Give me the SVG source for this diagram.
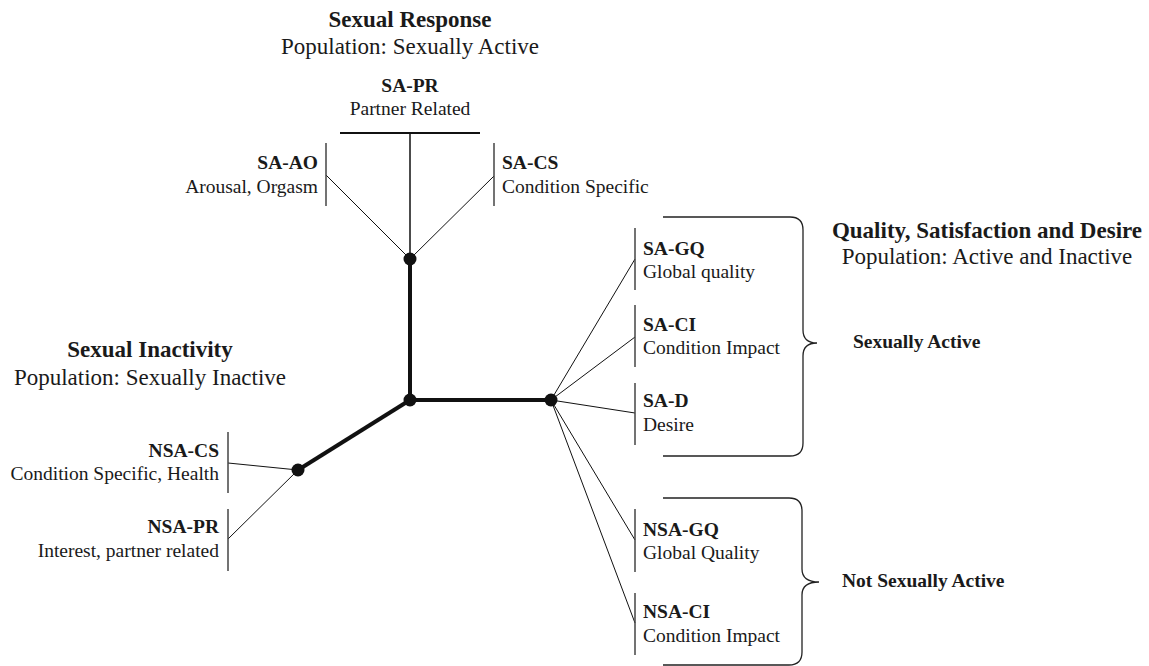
<svg xmlns="http://www.w3.org/2000/svg" width="1149" height="666" viewBox="0 0 1149 666">
<style>
text{font-family:"Liberation Serif","Times New Roman",serif;fill:#1a1a1a}
.h{font-size:23px;font-weight:bold}
.p{font-size:23px}
.b{font-size:19.5px;font-weight:bold}
.r{font-size:19.5px}
.e{text-anchor:end}
.m{text-anchor:middle}
.bar{stroke:#444;stroke-width:1.5;fill:none}
.thin{stroke:#111;stroke-width:1;fill:none}
.thick{stroke:#111;stroke-width:4;fill:none}
.brace{stroke:#222;stroke-width:1.3;fill:none}
.dot{fill:#111}
</style>
<rect width="1149" height="666" fill="#fff"/>
<g id="connectors">
<line class="thick" x1="410" y1="259" x2="410" y2="400"/>
<line class="thick" x1="410" y1="400" x2="551" y2="400"/>
<line class="thick" x1="410" y1="400" x2="298" y2="470"/>
<line class="thin" x1="410" y1="133" x2="410" y2="259" style="stroke-width:1.5"/>
<line class="thin" x1="326" y1="175" x2="410" y2="259"/>
<line class="thin" x1="494" y1="176" x2="410" y2="259"/>
<line class="thin" x1="551" y1="400" x2="635" y2="259"/>
<line class="thin" x1="551" y1="400" x2="635" y2="337"/>
<line class="thin" x1="551" y1="400" x2="635" y2="413"/>
<line class="thin" x1="551" y1="400" x2="635" y2="540"/>
<line class="thin" x1="551" y1="400" x2="635" y2="623"/>
<line class="thin" x1="228" y1="463" x2="298" y2="470"/>
<line class="thin" x1="228" y1="539" x2="298" y2="470"/>
</g>
<g id="title-sexual-response">
<text class="h m" x="410" y="27">Sexual Response</text>
<text class="p m" x="410" y="54">Population: Sexually Active</text>
</g>
<g id="title-sexual-inactivity">
<text class="h m" x="150" y="357">Sexual Inactivity</text>
<text class="p m" x="150" y="385">Population: Sexually Inactive</text>
</g>
<g id="title-quality">
<text class="h m" x="987" y="238">Quality, Satisfaction and Desire</text>
<text class="p m" x="987" y="264">Population: Active and Inactive</text>
</g>
<g id="node-sa-pr">
<line stroke="#111" stroke-width="2" x1="340" y1="133" x2="480" y2="133"/>
<text class="b m" x="410" y="92">SA-PR</text>
<text class="r m" x="410" y="115">Partner Related</text>
</g>
<g id="node-sa-ao">
<line class="bar" x1="326" y1="143" x2="326" y2="206"/>
<text class="b e" x="318" y="169">SA-AO</text>
<text class="r e" x="318" y="193">Arousal, Orgasm</text>
</g>
<g id="node-sa-cs">
<line class="bar" x1="494" y1="143" x2="494" y2="206"/>
<text class="b" x="502" y="169">SA-CS</text>
<text class="r" x="502" y="193">Condition Specific</text>
</g>
<g id="node-sa-gq">
<line class="bar" x1="635" y1="228" x2="635" y2="290"/>
<text class="b" x="643" y="255">SA-GQ</text>
<text class="r" x="643" y="278">Global quality</text>
</g>
<g id="node-sa-ci">
<line class="bar" x1="635" y1="305" x2="635" y2="367"/>
<text class="b" x="643" y="331">SA-CI</text>
<text class="r" x="643" y="354">Condition Impact</text>
</g>
<g id="node-sa-d">
<line class="bar" x1="635" y1="383" x2="635" y2="445"/>
<text class="b" x="643" y="407">SA-D</text>
<text class="r" x="643" y="431">Desire</text>
</g>
<g id="node-nsa-gq">
<line class="bar" x1="635" y1="509" x2="635" y2="572"/>
<text class="b" x="643" y="536">NSA-GQ</text>
<text class="r" x="643" y="559">Global Quality</text>
</g>
<g id="node-nsa-ci">
<line class="bar" x1="635" y1="593" x2="635" y2="655"/>
<text class="b" x="643" y="618">NSA-CI</text>
<text class="r" x="643" y="642">Condition Impact</text>
</g>
<g id="node-nsa-cs">
<line class="bar" x1="228" y1="432" x2="228" y2="493"/>
<text class="b e" x="219" y="457">NSA-CS</text>
<text class="r e" x="219" y="480">Condition Specific, Health</text>
</g>
<g id="node-nsa-pr">
<line class="bar" x1="228" y1="509" x2="228" y2="571"/>
<text class="b e" x="219" y="533">NSA-PR</text>
<text class="r e" x="219" y="557">Interest, partner related</text>
</g>
<g id="brace-sexually-active">
<path class="brace" d="M663,217 H790 Q803,217 803,230 V330 Q803,343 817,343 Q803,343 803,356 V443 Q803,456 790,456 H663"/>
<text class="b" x="853" y="348">Sexually Active</text>
</g>
<g id="brace-not-sexually-active">
<path class="brace" d="M663,498 H789 Q802,498 802,511 V569 Q802,582 819,582 Q802,582 802,595 V652 Q802,665 789,665 H663"/>
<text class="b" x="842" y="587">Not Sexually Active</text>
</g>
<g id="dots">
<circle class="dot" cx="410" cy="259" r="6.5"/>
<circle class="dot" cx="410" cy="400" r="6.5"/>
<circle class="dot" cx="551" cy="400" r="6.5"/>
<circle class="dot" cx="298" cy="470" r="6.5"/>
</g>
</svg>
